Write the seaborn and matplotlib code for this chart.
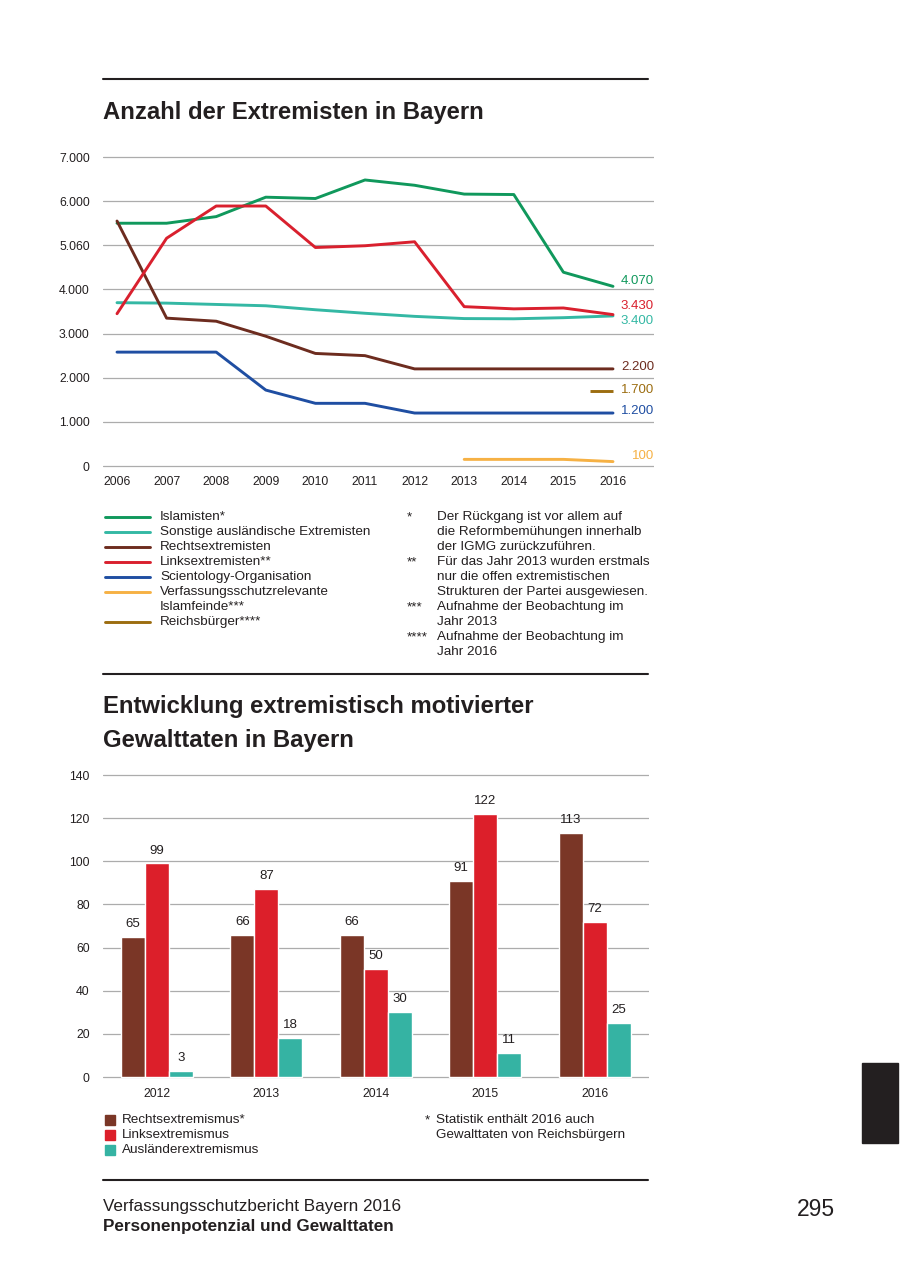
import numpy as np
import pandas as pd
import matplotlib.pyplot as plt
import seaborn as sns
from matplotlib.lines import Line2D
from matplotlib.patches import Rectangle
from matplotlib.path import Path
from matplotlib.transforms import blended_transform_factory

# --- data: Anzahl der Extremisten ---
jahre = list(range(2006, 2017))
islamisten = [5500, 5500, 5650, 6090, 6060, 6480, 6360, 6160, 6150, 4390, 4070]
sonstige = [3700, 3690, 3660, 3630, 3540, 3460, 3390, 3340, 3335, 3360, 3400]
rechts = [5550, 3350, 3280, 2940, 2550, 2500, 2200, 2200, 2200, 2200, 2200]
links = [3450, 5160, 5890, 5890, 4950, 4990, 5080, 3610, 3560, 3580, 3430]
scientology = [2580, 2580, 2580, 1720, 1420, 1420, 1200, 1200, 1200, 1200, 1200]
jahre_islamfeinde = [2013, 2014, 2015, 2016]
islamfeinde = [150, 150, 150, 100]
jahre_reichsbuerger = [2016]
reichsbuerger = [1700]

y_ticks = [0, 1000, 2000, 3000, 4000, 5000, 6000, 7000]
y_ticklabels = ["0", "1.000", "2.000", "3.000", "4.000", "5.060", "6.000", "7.000"]

serien = ["Islamisten*", "Sonstige ausländische Extremisten", "Rechtsextremisten",
          "Linksextremisten**", "Scientology-Organisation",
          "Verfassungsschutzrelevante\nIslamfeinde***", "Reichsbürger****"]
farben = ["#10985c", "#34b8a4", "#6d2c1f", "#d9202e", "#1f4ea2", "#f6b144", "#9c6d10"]

fussnoten = [("*", "Der Rückgang ist vor allem auf"), ("", "die Reformbemühungen innerhalb"),
             ("", "der IGMG zurückzuführen."), ("**", "Für das Jahr 2013 wurden erstmals"),
             ("", "nur die offen extremistischen"), ("", "Strukturen der Partei ausgewiesen."),
             ("***", "Aufnahme der Beobachtung im"), ("", "Jahr 2013"),
             ("****", "Aufnahme der Beobachtung im"), ("", "Jahr 2016")]

# --- data: Gewalttaten ---
gew_jahre = ["2012", "2013", "2014", "2015", "2016"]
gew_rechts = [65, 66, 66, 91, 113]
gew_links = [99, 87, 50, 122, 72]
gew_auslaender = [3, 18, 30, 11, 25]
gew_arten = ["Rechtsextremismus*", "Linksextremismus", "Ausländerextremismus"]
gew_farben = ["#7a3626", "#dc1f2a", "#35b3a3"]

W, H = 900, 1276
ink = "#231f20"
grid_c = "#acacac"
fs_text = 9.7

sns.set_theme(style="white")
plt.rcParams["font.family"] = ["Liberation Sans", "DejaVu Sans"]
plt.rcParams["text.color"] = ink


def fx(px):
    return px / W


def fy(py):
    return 1 - py / H


fig = plt.figure(figsize=(9, 12.76), dpi=100)

# ---------------- line chart ----------------
ppu = 44.14 / 1000
y_lo, y_hi = -100, 7160
ax1 = fig.add_axes([fx(103), fy(466 + 100 * ppu), fx(654 - 103), (y_hi - y_lo) * ppu / H])
rows = []
for name, vals in zip(serien[:5], [islamisten, sonstige, rechts, links, scientology]):
    for j, v in zip(jahre, vals):
        rows.append({"Jahr": j, "Wert": v, "Serie": name})
for j, v in zip(jahre_islamfeinde, islamfeinde):
    rows.append({"Jahr": j, "Wert": v, "Serie": serien[5]})
df = pd.DataFrame(rows)
sns.lineplot(data=df, x="Jahr", y="Wert", hue="Serie", hue_order=serien[:6],
             palette=farben[:6], linewidth=2.1, errorbar=None, legend=False, ax=ax1)
half_line = Path([(-1, 0), (0, 0)], [Path.MOVETO, Path.LINETO])
ax1.plot(jahre_reichsbuerger, reichsbuerger, linestyle="none", marker=half_line,
         markersize=33, markeredgewidth=2.1, markeredgecolor=farben[6],
         markerfacecolor="none")

ax1.set_xlim(2006 - 14 / 49.6, 2016 + 41 / 49.6)
ax1.set_ylim(y_lo, y_hi)
ax1.set_yticks(y_ticks)
ax1.set_yticklabels(y_ticklabels)
ax1.set_xticks(jahre)
ax1.set_xticklabels([str(j) for j in jahre])
ax1.yaxis.grid(True, color=grid_c, linewidth=0.9)
ax1.xaxis.grid(False)
ax1.tick_params(axis="both", length=0, labelsize=8.8, colors=ink)
ax1.tick_params(axis="y", pad=9.5)
ax1.tick_params(axis="x", pad=4)
ax1.set_xlabel("")
ax1.set_ylabel("")
for s in ax1.spines.values():
    s.set_visible(False)
ax1.patch.set_alpha(0)

# end labels
endwerte = [islamisten[-1], links[-1], sonstige[-1], rechts[-1], reichsbuerger[-1],
            scientology[-1], islamfeinde[-1]]
endfarben = [farben[0], farben[3], farben[1], farben[2], farben[6], farben[4], farben[5]]
versatz = [5, 9, -5, 2, 1, 2, 5.5]
tr = blended_transform_factory(ax1.transAxes, ax1.transData)
for v, c, d in zip(endwerte, endfarben, versatz):
    txt = f"{v:,}".replace(",", ".")
    ax1.annotate(txt, xy=(1.0, v), xycoords=tr, xytext=(0, d / 1.389),
                 textcoords="offset points", ha="right", va="center",
                 fontsize=9.5, color=c)

# legend (manual)
row = 0
for name, c in zip(serien, farben):
    yy = 517 + 15 * row
    fig.add_artist(Line2D([fx(105), fx(150)], [fy(yy), fy(yy)], color=c, linewidth=2.1))
    for line in name.split("\n"):
        fig.text(fx(160), fy(517 + 15 * row), line, fontsize=fs_text, va="center", ha="left")
        row += 1

for i, (stern, text) in enumerate(fussnoten):
    yy = 517 + 15 * i
    if stern:
        fig.text(fx(407), fy(yy), stern, fontsize=fs_text, va="center", ha="left")
    fig.text(fx(437), fy(yy), text, fontsize=fs_text, va="center", ha="left")

# ---------------- bar chart ----------------
bppu = 2.157
ax2 = fig.add_axes([fx(103), fy(1077 + 2 * bppu), fx(649 - 103), 145 * bppu / H])
brows = []
for art, vals in zip(gew_arten, [gew_rechts, gew_links, gew_auslaender]):
    for j, v in zip(gew_jahre, vals):
        brows.append({"Jahr": j, "Anzahl": v, "Art": art})
bdf = pd.DataFrame(brows)
sns.barplot(data=bdf, x="Jahr", y="Anzahl", hue="Art", order=gew_jahre,
            hue_order=gew_arten, palette=gew_farben, saturation=1, width=0.658,
            gap=0, legend=False, errorbar=None, ax=ax2)
for cont in ax2.containers:
    ax2.bar_label(cont, padding=5, fontsize=9.5, color=ink)
ax2.set_ylim(-2, 143)
ax2.set_xlim(-54 / 109.4, 4 + 54.4 / 109.4)
ax2.set_yticks([0, 20, 40, 60, 80, 100, 120, 140])
ax2.yaxis.grid(True, color=grid_c, linewidth=0.9)
ax2.set_axisbelow(True)
ax2.tick_params(axis="both", length=0, labelsize=8.8, colors=ink)
ax2.tick_params(axis="y", pad=9.5)
ax2.tick_params(axis="x", pad=4.5)
ax2.set_xlabel("")
ax2.set_ylabel("")
for s in ax2.spines.values():
    s.set_visible(False)
ax2.patch.set_alpha(0)

for i, (art, c) in enumerate(zip(gew_arten, gew_farben)):
    yy = 1120 + 15 * i
    fig.add_artist(Rectangle((fx(105), fy(yy + 5)), fx(10), 10 / H, color=c,
                             transform=fig.transFigure))
    fig.text(fx(122), fy(yy), art, fontsize=fs_text, va="center", ha="left")
fig.text(fx(425), fy(1120), "*", fontsize=fs_text, va="center", ha="left")
fig.text(fx(436), fy(1120), "Statistik enthält 2016 auch", fontsize=fs_text, va="center")
fig.text(fx(436), fy(1135), "Gewalttaten von Reichsbürgern", fontsize=fs_text, va="center")

# ---------------- page elements ----------------
for yy in [79, 674, 1180]:
    fig.add_artist(Line2D([fx(103), fx(648)], [fy(yy), fy(yy)], color=ink, linewidth=1.5))

fig.text(fx(103), fy(113), "Anzahl der Extremisten in Bayern", fontsize=17.2,
         fontweight="bold", va="center", ha="left")
fig.text(fx(103), fy(707), "Entwicklung extremistisch motivierter", fontsize=17.2,
         fontweight="bold", va="center", ha="left")
fig.text(fx(103), fy(740), "Gewalttaten in Bayern", fontsize=17.2,
         fontweight="bold", va="center", ha="left")

fig.text(fx(103), fy(1206), "Verfassungsschutzbericht Bayern 2016", fontsize=12.3,
         va="center", ha="left")
fig.text(fx(103), fy(1226), "Personenpotenzial und Gewalttaten", fontsize=12.3,
         fontweight="bold", va="center", ha="left")
fig.text(fx(797), fy(1209), "295", fontsize=16.5, va="center", ha="left")
fig.add_artist(Rectangle((fx(862), fy(1143)), fx(36), 80 / H, color=ink,
                         transform=fig.transFigure))

fig.savefig("out.png", dpi=100)
